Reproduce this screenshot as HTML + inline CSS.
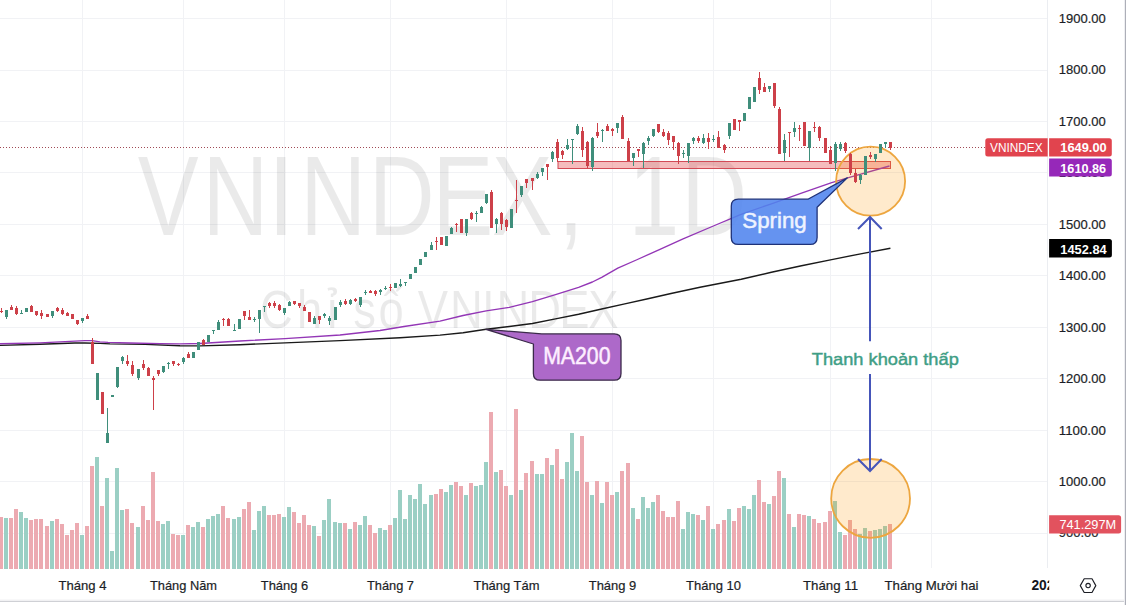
<!DOCTYPE html><html><head><meta charset="utf-8"><title>VNINDEX</title><style>html,body{margin:0;padding:0;background:#fff;overflow:hidden}body{width:1126px;height:605px}</style></head><body><svg width="1126" height="605" viewBox="0 0 1126 605" style="display:block">
<rect width="1126" height="605" fill="#fff"/>
<g stroke="#f1f2f5" stroke-width="1" fill="none"><path d="M0 533.5H1047"/><path d="M0 481.5H1047"/><path d="M0 430.5H1047"/><path d="M0 378.5H1047"/><path d="M0 327.5H1047"/><path d="M0 275.5H1047"/><path d="M0 224.5H1047"/><path d="M0 172.5H1047"/><path d="M0 121.5H1047"/><path d="M0 70.5H1047"/><path d="M0 18.5H1047"/><path d="M82.5 0V568"/><path d="M183.5 0V568"/><path d="M284.5 0V568"/><path d="M390.5 0V568"/><path d="M506.5 0V568"/><path d="M612.5 0V568"/><path d="M713.5 0V568"/><path d="M830.5 0V568"/><path d="M931.5 0V568"/></g>
<g font-family='"Liberation Sans", sans-serif' fill="#000" fill-opacity="0.082"><text transform="scale(0.81,1)" x="170.1 250.0 331.4 370.8 455.3 533.9 607.0 689.1 728.2 775.8 841.0" y="234.9" font-size="112.6">VNINDEX, 1D</text><text transform="scale(0.86,1)" x="302.4 345.4 380.6 392.7 410.7 440.0 469.4 485.9 523.3 560.6 577.4 614.2 650.3 683.9" y="328.2" font-size="52.8">Chỉ số VNINDEX</text></g>
<g fill="#9bcfc4"><rect x="4" y="518" width="4" height="51"/><rect x="19" y="512" width="4" height="57"/><rect x="24" y="518" width="4" height="51"/><rect x="50" y="521" width="4" height="48"/><rect x="80" y="535" width="4" height="34"/><rect x="95" y="457" width="4" height="112"/><rect x="105" y="478" width="4" height="91"/><rect x="110" y="551" width="4" height="18"/><rect x="115" y="468" width="4" height="101"/><rect x="120" y="510" width="4" height="59"/><rect x="136" y="527" width="4" height="42"/><rect x="161" y="524" width="4" height="45"/><rect x="166" y="521" width="4" height="48"/><rect x="181" y="535" width="4" height="34"/><rect x="191" y="527" width="4" height="42"/><rect x="196" y="522" width="4" height="47"/><rect x="206" y="519" width="4" height="50"/><rect x="211" y="516" width="4" height="53"/><rect x="216" y="514" width="4" height="55"/><rect x="232" y="519" width="4" height="50"/><rect x="237" y="517" width="4" height="52"/><rect x="252" y="530" width="4" height="39"/><rect x="257" y="511" width="4" height="58"/><rect x="262" y="506" width="4" height="63"/><rect x="282" y="517" width="4" height="52"/><rect x="287" y="507" width="4" height="62"/><rect x="312" y="526" width="4" height="43"/><rect x="322" y="520" width="4" height="49"/><rect x="327" y="499" width="4" height="70"/><rect x="333" y="522" width="4" height="47"/><rect x="338" y="523" width="4" height="46"/><rect x="348" y="529" width="4" height="40"/><rect x="358" y="525" width="4" height="44"/><rect x="363" y="516" width="4" height="53"/><rect x="378" y="528" width="4" height="41"/><rect x="383" y="530" width="4" height="39"/><rect x="393" y="518" width="4" height="51"/><rect x="398" y="490" width="4" height="79"/><rect x="403" y="519" width="4" height="50"/><rect x="408" y="495" width="4" height="74"/><rect x="413" y="499" width="4" height="70"/><rect x="418" y="484" width="4" height="85"/><rect x="423" y="504" width="4" height="65"/><rect x="429" y="495" width="4" height="74"/><rect x="444" y="492" width="4" height="77"/><rect x="449" y="485" width="4" height="84"/><rect x="464" y="495" width="4" height="74"/><rect x="474" y="486" width="4" height="83"/><rect x="479" y="485" width="4" height="84"/><rect x="484" y="462" width="4" height="107"/><rect x="494" y="472" width="4" height="97"/><rect x="509" y="495" width="4" height="74"/><rect x="519" y="490" width="4" height="79"/><rect x="535" y="474" width="4" height="95"/><rect x="540" y="474" width="4" height="95"/><rect x="550" y="465" width="4" height="104"/><rect x="565" y="462" width="4" height="107"/><rect x="570" y="433" width="4" height="136"/><rect x="575" y="471" width="4" height="98"/><rect x="590" y="495" width="4" height="74"/><rect x="600" y="503" width="4" height="66"/><rect x="615" y="492" width="4" height="77"/><rect x="631" y="508" width="4" height="61"/><rect x="641" y="497" width="4" height="72"/><rect x="646" y="508" width="4" height="61"/><rect x="651" y="502" width="4" height="67"/><rect x="681" y="529" width="4" height="40"/><rect x="686" y="512" width="4" height="57"/><rect x="691" y="514" width="4" height="55"/><rect x="701" y="520" width="4" height="49"/><rect x="711" y="529" width="4" height="40"/><rect x="727" y="509" width="4" height="60"/><rect x="742" y="506" width="4" height="63"/><rect x="747" y="509" width="4" height="60"/><rect x="752" y="495" width="4" height="74"/><rect x="767" y="504" width="4" height="65"/><rect x="782" y="478" width="4" height="91"/><rect x="792" y="527" width="4" height="42"/><rect x="807" y="516" width="4" height="53"/><rect x="833" y="501" width="4" height="68"/><rect x="838" y="532" width="4" height="37"/><rect x="858" y="534" width="4" height="35"/><rect x="863" y="528" width="4" height="41"/><rect x="873" y="530" width="4" height="39"/><rect x="878" y="529" width="4" height="40"/><rect x="883" y="526" width="4" height="43"/></g>
<g fill="#ecaab1"><rect x="-1" y="517" width="4" height="52"/><rect x="9" y="518" width="4" height="51"/><rect x="14" y="509" width="4" height="60"/><rect x="29" y="520" width="4" height="49"/><rect x="34" y="519" width="4" height="50"/><rect x="39" y="519" width="4" height="50"/><rect x="45" y="526" width="4" height="43"/><rect x="55" y="519" width="4" height="50"/><rect x="60" y="524" width="4" height="45"/><rect x="65" y="535" width="4" height="34"/><rect x="70" y="530" width="4" height="39"/><rect x="75" y="523" width="4" height="46"/><rect x="85" y="526" width="4" height="43"/><rect x="90" y="466" width="4" height="103"/><rect x="100" y="506" width="4" height="63"/><rect x="125" y="509" width="4" height="60"/><rect x="130" y="523" width="4" height="46"/><rect x="141" y="506" width="4" height="63"/><rect x="146" y="520" width="4" height="49"/><rect x="151" y="472" width="4" height="97"/><rect x="156" y="521" width="4" height="48"/><rect x="171" y="534" width="4" height="35"/><rect x="176" y="535" width="4" height="34"/><rect x="186" y="525" width="4" height="44"/><rect x="201" y="527" width="4" height="42"/><rect x="221" y="506" width="4" height="63"/><rect x="226" y="518" width="4" height="51"/><rect x="242" y="509" width="4" height="60"/><rect x="247" y="502" width="4" height="67"/><rect x="267" y="515" width="4" height="54"/><rect x="272" y="515" width="4" height="54"/><rect x="277" y="514" width="4" height="55"/><rect x="292" y="512" width="4" height="57"/><rect x="297" y="523" width="4" height="46"/><rect x="302" y="515" width="4" height="54"/><rect x="307" y="525" width="4" height="44"/><rect x="317" y="536" width="4" height="33"/><rect x="343" y="523" width="4" height="46"/><rect x="353" y="522" width="4" height="47"/><rect x="368" y="525" width="4" height="44"/><rect x="373" y="533" width="4" height="36"/><rect x="388" y="525" width="4" height="44"/><rect x="434" y="494" width="4" height="75"/><rect x="439" y="489" width="4" height="80"/><rect x="454" y="482" width="4" height="87"/><rect x="459" y="486" width="4" height="83"/><rect x="469" y="483" width="4" height="86"/><rect x="489" y="412" width="4" height="157"/><rect x="499" y="470" width="4" height="99"/><rect x="504" y="486" width="4" height="83"/><rect x="514" y="409" width="4" height="160"/><rect x="524" y="473" width="4" height="96"/><rect x="530" y="461" width="4" height="108"/><rect x="545" y="458" width="4" height="111"/><rect x="555" y="449" width="4" height="120"/><rect x="560" y="479" width="4" height="90"/><rect x="580" y="436" width="4" height="133"/><rect x="585" y="482" width="4" height="87"/><rect x="595" y="481" width="4" height="88"/><rect x="605" y="482" width="4" height="87"/><rect x="610" y="495" width="4" height="74"/><rect x="620" y="471" width="4" height="98"/><rect x="626" y="463" width="4" height="106"/><rect x="636" y="519" width="4" height="50"/><rect x="656" y="495" width="4" height="74"/><rect x="661" y="511" width="4" height="58"/><rect x="666" y="517" width="4" height="52"/><rect x="671" y="517" width="4" height="52"/><rect x="676" y="501" width="4" height="68"/><rect x="696" y="515" width="4" height="54"/><rect x="706" y="506" width="4" height="63"/><rect x="716" y="524" width="4" height="45"/><rect x="722" y="520" width="4" height="49"/><rect x="732" y="521" width="4" height="48"/><rect x="737" y="508" width="4" height="61"/><rect x="757" y="480" width="4" height="89"/><rect x="762" y="502" width="4" height="67"/><rect x="772" y="496" width="4" height="73"/><rect x="777" y="471" width="4" height="98"/><rect x="787" y="514" width="4" height="55"/><rect x="797" y="514" width="4" height="55"/><rect x="802" y="515" width="4" height="54"/><rect x="812" y="519" width="4" height="50"/><rect x="817" y="523" width="4" height="46"/><rect x="823" y="522" width="4" height="47"/><rect x="828" y="511" width="4" height="58"/><rect x="843" y="535" width="4" height="34"/><rect x="848" y="520" width="4" height="49"/><rect x="853" y="529" width="4" height="40"/><rect x="868" y="531" width="4" height="38"/><rect x="888" y="524" width="4" height="45"/></g>
<path d="M0 147.5H985" stroke="#a04a55" stroke-width="1" stroke-dasharray="1 2" fill="none"/>
<rect x="558" y="161.5" width="332.5" height="7" fill="#e24448" fill-opacity="0.36" stroke="#d24a56" stroke-width="1"/>
<path d="M0.0 345.4 L40.0 344.2 L75.0 343.0 L85.0 343.0 L100.0 343.4 L110.0 343.9 L145.0 344.4 L180.0 345.7 L200.0 345.9 L240.0 344.7 L285.0 342.9 L340.0 340.6 L400.0 337.7 L440.0 335.1 L463.1 332.8 L486.2 329.3 L509.3 326.5 L532.4 323.5 L555.5 318.9 L578.6 314.3 L601.7 309.0 L624.8 303.9 L647.9 298.8 L671.0 293.5 L700.0 287.3 L741.2 279.3 L771.4 272.3 L801.5 265.7 L831.7 259.6 L861.9 253.6 L890.4 248.3" stroke="#1a1a1a" stroke-width="1.45" fill="none" stroke-linejoin="round"/>
<path d="M0.0 343.8 L40.0 342.8 L75.0 341.2 L85.0 340.7 L92.0 340.6 L100.0 341.8 L108.0 342.4 L130.0 343.0 L160.0 343.7 L180.0 343.9 L200.0 343.5 L240.0 341.0 L285.0 338.6 L340.0 335.0 L380.0 330.5 L404.0 326.5 L440.0 321.2 L463.1 315.5 L486.2 310.8 L509.3 307.4 L532.4 301.6 L555.5 294.7 L578.6 287.3 L592.4 282.0 L601.7 277.3 L617.8 268.1 L636.3 260.0 L659.4 249.6 L682.5 239.2 L711.0 227.0 L741.0 214.3 L771.4 203.8 L801.5 193.2 L831.7 182.6 L846.8 178.1 L889.5 166.0" stroke="#9336b6" stroke-width="1.35" fill="none" stroke-linejoin="round"/>
<circle cx="870.6" cy="181.2" r="34.5" fill="#ff9800" fill-opacity="0.2" stroke="#eda63f" stroke-width="1.8"/>
<circle cx="870.6" cy="498.4" r="39.4" fill="#ff9800" fill-opacity="0.2" stroke="#eda63f" stroke-width="1.8"/>
<g fill="#3f8e7b"><rect x="6" y="310" width="1" height="9"/><rect x="5" y="310" width="3" height="7"/><rect x="21" y="310" width="1" height="4"/><rect x="20" y="313" width="3" height="1"/><rect x="26" y="308" width="1" height="4"/><rect x="25" y="308" width="3" height="4"/><rect x="52" y="311" width="1" height="7"/><rect x="51" y="311" width="3" height="5"/><rect x="82" y="318" width="1" height="5"/><rect x="81" y="318" width="3" height="3"/><rect x="97" y="373" width="1" height="27"/><rect x="96" y="373" width="3" height="27"/><rect x="107" y="408" width="1" height="35"/><rect x="106" y="433" width="3" height="10"/><rect x="112" y="395" width="1" height="2"/><rect x="111" y="395" width="3" height="2"/><rect x="117" y="367" width="1" height="21"/><rect x="116" y="367" width="3" height="20"/><rect x="122" y="356" width="1" height="8"/><rect x="121" y="357" width="3" height="4"/><rect x="138" y="369" width="1" height="11"/><rect x="137" y="369" width="3" height="9"/><rect x="163" y="366" width="1" height="7"/><rect x="162" y="366" width="3" height="6"/><rect x="168" y="362" width="1" height="7"/><rect x="167" y="363" width="3" height="1"/><rect x="183" y="357" width="1" height="7"/><rect x="182" y="358" width="3" height="4"/><rect x="193" y="352" width="1" height="6"/><rect x="192" y="352" width="3" height="6"/><rect x="198" y="342" width="1" height="8"/><rect x="197" y="342" width="3" height="8"/><rect x="208" y="335" width="1" height="7"/><rect x="207" y="335" width="3" height="7"/><rect x="213" y="330" width="1" height="4"/><rect x="212" y="330" width="3" height="1"/><rect x="218" y="320" width="1" height="10"/><rect x="217" y="322" width="3" height="8"/><rect x="234" y="324" width="1" height="6"/><rect x="233" y="330" width="3" height="1"/><rect x="239" y="319" width="1" height="10"/><rect x="238" y="319" width="3" height="10"/><rect x="254" y="317" width="1" height="5"/><rect x="253" y="319" width="3" height="1"/><rect x="259" y="310" width="1" height="23"/><rect x="258" y="310" width="3" height="9"/><rect x="264" y="306" width="1" height="6"/><rect x="263" y="306" width="3" height="1"/><rect x="284" y="308" width="1" height="7"/><rect x="283" y="308" width="3" height="5"/><rect x="289" y="301" width="1" height="5"/><rect x="288" y="302" width="3" height="4"/><rect x="314" y="316" width="1" height="8"/><rect x="313" y="318" width="3" height="6"/><rect x="324" y="313" width="1" height="5"/><rect x="323" y="314" width="3" height="2"/><rect x="329" y="316" width="1" height="9"/><rect x="328" y="318" width="3" height="3"/><rect x="335" y="307" width="1" height="13"/><rect x="334" y="307" width="3" height="13"/><rect x="340" y="300" width="1" height="7"/><rect x="339" y="302" width="3" height="3"/><rect x="350" y="299" width="1" height="6"/><rect x="349" y="300" width="3" height="4"/><rect x="360" y="297" width="1" height="10"/><rect x="359" y="297" width="3" height="8"/><rect x="365" y="290" width="1" height="5"/><rect x="364" y="292" width="3" height="1"/><rect x="380" y="289" width="1" height="6"/><rect x="379" y="290" width="3" height="2"/><rect x="385" y="286" width="1" height="4"/><rect x="384" y="288" width="3" height="1"/><rect x="395" y="283" width="1" height="5"/><rect x="394" y="283" width="3" height="5"/><rect x="400" y="279" width="1" height="8"/><rect x="399" y="284" width="3" height="2"/><rect x="405" y="282" width="1" height="4"/><rect x="404" y="282" width="3" height="1"/><rect x="410" y="274" width="1" height="5"/><rect x="409" y="274" width="3" height="5"/><rect x="415" y="267" width="1" height="6"/><rect x="414" y="267" width="3" height="6"/><rect x="420" y="259" width="1" height="6"/><rect x="419" y="259" width="3" height="6"/><rect x="425" y="252" width="1" height="5"/><rect x="424" y="252" width="3" height="5"/><rect x="431" y="242" width="1" height="8"/><rect x="430" y="245" width="3" height="5"/><rect x="446" y="236" width="1" height="10"/><rect x="445" y="236" width="3" height="10"/><rect x="451" y="227" width="1" height="7"/><rect x="450" y="228" width="3" height="6"/><rect x="466" y="219" width="1" height="17"/><rect x="465" y="219" width="3" height="14"/><rect x="476" y="211" width="1" height="11"/><rect x="475" y="213" width="3" height="1"/><rect x="481" y="206" width="1" height="7"/><rect x="480" y="207" width="3" height="6"/><rect x="486" y="194" width="1" height="10"/><rect x="485" y="194" width="3" height="9"/><rect x="496" y="218" width="1" height="15"/><rect x="495" y="219" width="3" height="5"/><rect x="511" y="209" width="1" height="19"/><rect x="510" y="209" width="3" height="19"/><rect x="521" y="186" width="1" height="11"/><rect x="520" y="186" width="3" height="9"/><rect x="537" y="172" width="1" height="7"/><rect x="536" y="174" width="3" height="4"/><rect x="542" y="168" width="1" height="8"/><rect x="541" y="168" width="3" height="4"/><rect x="552" y="151" width="1" height="11"/><rect x="551" y="152" width="3" height="7"/><rect x="567" y="139" width="1" height="11"/><rect x="566" y="145" width="3" height="4"/><rect x="572" y="139" width="1" height="25"/><rect x="571" y="139" width="3" height="1"/><rect x="577" y="124" width="1" height="11"/><rect x="576" y="126" width="3" height="8"/><rect x="592" y="137" width="1" height="34"/><rect x="591" y="138" width="3" height="29"/><rect x="602" y="129" width="1" height="13"/><rect x="601" y="130" width="3" height="1"/><rect x="617" y="123" width="1" height="10"/><rect x="616" y="123" width="3" height="5"/><rect x="633" y="153" width="1" height="13"/><rect x="632" y="153" width="3" height="5"/><rect x="643" y="142" width="1" height="26"/><rect x="642" y="143" width="3" height="11"/><rect x="648" y="136" width="1" height="9"/><rect x="647" y="138" width="3" height="3"/><rect x="653" y="129" width="1" height="8"/><rect x="652" y="129" width="3" height="7"/><rect x="683" y="150" width="1" height="8"/><rect x="682" y="153" width="3" height="1"/><rect x="688" y="143" width="1" height="20"/><rect x="687" y="143" width="3" height="13"/><rect x="693" y="137" width="1" height="7"/><rect x="692" y="138" width="3" height="3"/><rect x="703" y="134" width="1" height="10"/><rect x="702" y="138" width="3" height="5"/><rect x="713" y="135" width="1" height="7"/><rect x="712" y="139" width="3" height="1"/><rect x="729" y="123" width="1" height="16"/><rect x="728" y="123" width="3" height="13"/><rect x="744" y="113" width="1" height="8"/><rect x="743" y="113" width="3" height="8"/><rect x="749" y="97" width="1" height="12"/><rect x="748" y="97" width="3" height="12"/><rect x="754" y="87" width="1" height="15"/><rect x="753" y="87" width="3" height="15"/><rect x="769" y="86" width="1" height="6"/><rect x="768" y="86" width="3" height="3"/><rect x="784" y="134" width="1" height="27"/><rect x="783" y="140" width="3" height="13"/><rect x="794" y="122" width="1" height="15"/><rect x="793" y="128" width="3" height="4"/><rect x="809" y="131" width="1" height="30"/><rect x="808" y="131" width="3" height="17"/><rect x="835" y="142" width="1" height="29"/><rect x="834" y="144" width="3" height="19"/><rect x="840" y="142" width="1" height="9"/><rect x="839" y="144" width="3" height="5"/><rect x="860" y="174" width="1" height="10"/><rect x="859" y="175" width="3" height="5"/><rect x="865" y="156" width="1" height="19"/><rect x="864" y="156" width="3" height="19"/><rect x="875" y="154" width="1" height="8"/><rect x="874" y="154" width="3" height="5"/><rect x="880" y="144" width="1" height="9"/><rect x="879" y="144" width="3" height="9"/><rect x="885" y="142" width="1" height="6"/><rect x="884" y="142" width="3" height="2"/></g>
<g fill="#cd4049"><rect x="1" y="308" width="1" height="5"/><rect x="0" y="311" width="3" height="1"/><rect x="11" y="305" width="1" height="5"/><rect x="10" y="307" width="3" height="3"/><rect x="16" y="306" width="1" height="9"/><rect x="15" y="308" width="3" height="6"/><rect x="31" y="305" width="1" height="7"/><rect x="30" y="306" width="3" height="6"/><rect x="36" y="311" width="1" height="5"/><rect x="35" y="311" width="3" height="4"/><rect x="41" y="310" width="1" height="9"/><rect x="40" y="313" width="3" height="3"/><rect x="47" y="314" width="1" height="3"/><rect x="46" y="314" width="3" height="3"/><rect x="57" y="307" width="1" height="5"/><rect x="56" y="308" width="3" height="3"/><rect x="62" y="308" width="1" height="7"/><rect x="61" y="310" width="3" height="4"/><rect x="67" y="312" width="1" height="4"/><rect x="66" y="313" width="3" height="3"/><rect x="72" y="314" width="1" height="5"/><rect x="71" y="314" width="3" height="5"/><rect x="77" y="320" width="1" height="5"/><rect x="76" y="320" width="3" height="4"/><rect x="87" y="314" width="1" height="5"/><rect x="86" y="316" width="3" height="3"/><rect x="92" y="338" width="1" height="26"/><rect x="91" y="342" width="3" height="22"/><rect x="102" y="392" width="1" height="22"/><rect x="101" y="392" width="3" height="22"/><rect x="127" y="355" width="1" height="11"/><rect x="126" y="361" width="3" height="3"/><rect x="132" y="361" width="1" height="15"/><rect x="131" y="365" width="3" height="9"/><rect x="143" y="360" width="1" height="10"/><rect x="142" y="364" width="3" height="4"/><rect x="148" y="367" width="1" height="9"/><rect x="147" y="368" width="3" height="8"/><rect x="153" y="376" width="1" height="34"/><rect x="152" y="378" width="3" height="2"/><rect x="158" y="370" width="1" height="6"/><rect x="157" y="370" width="3" height="4"/><rect x="173" y="361" width="1" height="5"/><rect x="172" y="361" width="3" height="3"/><rect x="178" y="363" width="1" height="3"/><rect x="177" y="364" width="3" height="1"/><rect x="188" y="352" width="1" height="6"/><rect x="187" y="354" width="3" height="4"/><rect x="203" y="339" width="1" height="6"/><rect x="202" y="340" width="3" height="5"/><rect x="223" y="318" width="1" height="8"/><rect x="222" y="319" width="3" height="1"/><rect x="228" y="318" width="1" height="8"/><rect x="227" y="319" width="3" height="7"/><rect x="244" y="311" width="1" height="9"/><rect x="243" y="311" width="3" height="5"/><rect x="249" y="310" width="1" height="10"/><rect x="248" y="317" width="3" height="3"/><rect x="269" y="302" width="1" height="6"/><rect x="268" y="303" width="3" height="3"/><rect x="274" y="301" width="1" height="7"/><rect x="273" y="303" width="3" height="3"/><rect x="279" y="304" width="1" height="7"/><rect x="278" y="305" width="3" height="5"/><rect x="294" y="301" width="1" height="4"/><rect x="293" y="301" width="3" height="3"/><rect x="299" y="303" width="1" height="5"/><rect x="298" y="303" width="3" height="3"/><rect x="304" y="305" width="1" height="6"/><rect x="303" y="307" width="3" height="4"/><rect x="309" y="312" width="1" height="10"/><rect x="308" y="312" width="3" height="10"/><rect x="319" y="316" width="1" height="8"/><rect x="318" y="316" width="3" height="4"/><rect x="345" y="299" width="1" height="6"/><rect x="344" y="301" width="3" height="3"/><rect x="355" y="298" width="1" height="4"/><rect x="354" y="299" width="3" height="2"/><rect x="370" y="290" width="1" height="3"/><rect x="369" y="291" width="3" height="2"/><rect x="375" y="290" width="1" height="6"/><rect x="374" y="291" width="3" height="3"/><rect x="390" y="284" width="1" height="7"/><rect x="389" y="287" width="3" height="1"/><rect x="436" y="237" width="1" height="13"/><rect x="435" y="241" width="3" height="1"/><rect x="441" y="237" width="1" height="8"/><rect x="440" y="237" width="3" height="8"/><rect x="456" y="223" width="1" height="9"/><rect x="455" y="224" width="3" height="1"/><rect x="461" y="219" width="1" height="14"/><rect x="460" y="219" width="3" height="14"/><rect x="471" y="212" width="1" height="8"/><rect x="470" y="213" width="3" height="6"/><rect x="491" y="190" width="1" height="38"/><rect x="490" y="192" width="3" height="36"/><rect x="501" y="212" width="1" height="18"/><rect x="500" y="213" width="3" height="11"/><rect x="506" y="219" width="1" height="12"/><rect x="505" y="220" width="3" height="7"/><rect x="516" y="180" width="1" height="33"/><rect x="515" y="200" width="3" height="1"/><rect x="526" y="179" width="1" height="9"/><rect x="525" y="179" width="3" height="4"/><rect x="532" y="178" width="1" height="12"/><rect x="531" y="178" width="3" height="3"/><rect x="547" y="164" width="1" height="16"/><rect x="546" y="164" width="3" height="3"/><rect x="557" y="139" width="1" height="23"/><rect x="556" y="142" width="3" height="16"/><rect x="562" y="150" width="1" height="9"/><rect x="561" y="151" width="3" height="4"/><rect x="582" y="127" width="1" height="30"/><rect x="581" y="131" width="3" height="19"/><rect x="587" y="141" width="1" height="27"/><rect x="586" y="142" width="3" height="24"/><rect x="597" y="123" width="1" height="15"/><rect x="596" y="132" width="3" height="4"/><rect x="607" y="124" width="1" height="7"/><rect x="606" y="126" width="3" height="5"/><rect x="612" y="128" width="1" height="8"/><rect x="611" y="129" width="3" height="2"/><rect x="622" y="115" width="1" height="24"/><rect x="621" y="117" width="3" height="22"/><rect x="628" y="138" width="1" height="23"/><rect x="627" y="141" width="3" height="20"/><rect x="638" y="149" width="1" height="8"/><rect x="637" y="149" width="3" height="2"/><rect x="658" y="124" width="1" height="9"/><rect x="657" y="124" width="3" height="8"/><rect x="663" y="129" width="1" height="8"/><rect x="662" y="132" width="3" height="4"/><rect x="668" y="131" width="1" height="14"/><rect x="667" y="133" width="3" height="7"/><rect x="673" y="136" width="1" height="14"/><rect x="672" y="136" width="3" height="6"/><rect x="678" y="142" width="1" height="22"/><rect x="677" y="143" width="3" height="13"/><rect x="698" y="136" width="1" height="7"/><rect x="697" y="138" width="3" height="3"/><rect x="708" y="133" width="1" height="16"/><rect x="707" y="138" width="3" height="4"/><rect x="718" y="131" width="1" height="17"/><rect x="717" y="137" width="3" height="11"/><rect x="724" y="144" width="1" height="9"/><rect x="723" y="145" width="3" height="5"/><rect x="734" y="119" width="1" height="11"/><rect x="733" y="119" width="3" height="11"/><rect x="739" y="120" width="1" height="11"/><rect x="738" y="120" width="3" height="2"/><rect x="759" y="72" width="1" height="22"/><rect x="758" y="78" width="3" height="12"/><rect x="764" y="83" width="1" height="9"/><rect x="763" y="87" width="3" height="5"/><rect x="774" y="83" width="1" height="25"/><rect x="773" y="83" width="3" height="23"/><rect x="779" y="107" width="1" height="47"/><rect x="778" y="109" width="3" height="45"/><rect x="789" y="132" width="1" height="25"/><rect x="788" y="132" width="3" height="1"/><rect x="799" y="125" width="1" height="16"/><rect x="798" y="128" width="3" height="1"/><rect x="804" y="122" width="1" height="24"/><rect x="803" y="122" width="3" height="24"/><rect x="814" y="122" width="1" height="10"/><rect x="813" y="127" width="3" height="1"/><rect x="819" y="126" width="1" height="15"/><rect x="818" y="127" width="3" height="11"/><rect x="825" y="138" width="1" height="15"/><rect x="824" y="138" width="3" height="15"/><rect x="830" y="146" width="1" height="18"/><rect x="829" y="150" width="3" height="14"/><rect x="845" y="142" width="1" height="11"/><rect x="844" y="143" width="3" height="8"/><rect x="850" y="153" width="1" height="22"/><rect x="849" y="154" width="3" height="19"/><rect x="855" y="169" width="1" height="14"/><rect x="854" y="173" width="3" height="9"/><rect x="870" y="152" width="1" height="7"/><rect x="869" y="155" width="3" height="2"/><rect x="890" y="142" width="1" height="8"/><rect x="889" y="142" width="3" height="6"/></g>
<g stroke="#4555b9" stroke-width="2" fill="none" stroke-linecap="butt"><path d="M870 217V341.3M870 373.9V471"/><path d="M858 229L870 217L881.7 229"/><path d="M858 459L870 471L881.7 459"/></g>
<text x="885.3" y="365.3" font-family='"Liberation Sans", sans-serif' font-size="17" fill="#3f9e85" stroke="#3f9e85" stroke-width="0.45" text-anchor="middle" textLength="147" lengthAdjust="spacingAndGlyphs">Thanh khoản thấp</text>
<path d="M738.3 199.2H807.9L847.3 177.9L817.1 207.2V237.4Q817.1 244.4 810.1 244.4H738.3Q731.3 244.4 731.3 237.4V206.2Q731.3 199.2 738.3 199.2Z" fill="#5084ee" fill-opacity="0.88" stroke="#1f3278" stroke-width="1.3" stroke-linejoin="round"/>
<text x="774.5" y="228" font-family='"Liberation Sans", sans-serif' font-size="22.3" fill="#eef3ff" stroke="#eef3ff" stroke-width="0.5" text-anchor="middle" textLength="64.5" lengthAdjust="spacingAndGlyphs">Spring</text>
<path d="M541.7 333.9H614.3Q621 333.9 621 340.6V373.5Q621 380.2 614.3 380.2H540.1Q533.4 380.2 533.4 373.5V344L485.9 329.3Z" fill="#ad69c9" stroke="#3b2a4a" stroke-width="1.3" stroke-linejoin="round"/>
<text x="576.8" y="363.6" font-family='"Liberation Sans", sans-serif' font-size="23" fill="#fdeeff" stroke="#fdeeff" stroke-width="0.5" text-anchor="middle" textLength="67.3" lengthAdjust="spacingAndGlyphs">MA200</text>
<rect x="1047" y="0" width="79" height="605" fill="#fff"/>
<rect x="0" y="569" width="1126" height="36" fill="#fff"/>
<path d="M1047.5 0V568" stroke="#ebedf1" stroke-width="1" fill="none"/>
<rect x="0" y="599" width="1126" height="1" fill="#f8f8f9"/><rect x="0" y="600" width="1126" height="1" fill="#f1f1f3"/><rect x="0" y="601" width="1126" height="1" fill="#cfd0d5"/>
<rect x="1124" y="0" width="1" height="605" fill="#eeeff2"/><rect x="1125" y="0" width="1" height="605" fill="#adafb8"/>
<g font-family='"Liberation Sans", sans-serif' font-size="13.3" fill="#1b1e26" stroke="#1b1e26" stroke-width="0.2"><text x="1058.8" y="537.4" textLength="39.8" lengthAdjust="spacingAndGlyphs">900.00</text><text x="1058.8" y="486.0" textLength="47" lengthAdjust="spacingAndGlyphs">1000.00</text><text x="1058.8" y="434.5" textLength="47" lengthAdjust="spacingAndGlyphs">1100.00</text><text x="1058.8" y="383.1" textLength="47" lengthAdjust="spacingAndGlyphs">1200.00</text><text x="1058.8" y="331.6" textLength="47" lengthAdjust="spacingAndGlyphs">1300.00</text><text x="1058.8" y="280.2" textLength="47" lengthAdjust="spacingAndGlyphs">1400.00</text><text x="1058.8" y="228.8" textLength="47" lengthAdjust="spacingAndGlyphs">1500.00</text><text x="1058.8" y="177.3" textLength="47" lengthAdjust="spacingAndGlyphs">1600.00</text><text x="1058.8" y="125.8" textLength="47" lengthAdjust="spacingAndGlyphs">1700.00</text><text x="1058.8" y="74.4" textLength="47" lengthAdjust="spacingAndGlyphs">1800.00</text><text x="1058.8" y="23.0" textLength="47" lengthAdjust="spacingAndGlyphs">1900.00</text></g>
<g font-family='"Liberation Sans", sans-serif' font-size="13" fill="#fff"><path d="M987.8 138.2H1047.7V156.6H987.8Q985.3 156.6 985.3 154.1V140.7Q985.3 138.2 987.8 138.2Z" fill="#e1444e"/><text x="990" y="152.3" textLength="52.6" lengthAdjust="spacingAndGlyphs">VNINDEX</text><path d="M1049.1 138.2H1109.3Q1111.8 138.2 1111.8 140.7V154.1Q1111.8 156.6 1109.3 156.6H1049.1V138.2Z" fill="#e1444e"/><text x="1060.3" y="152.4" font-weight="bold" textLength="46.4" lengthAdjust="spacingAndGlyphs">1649.00</text><path d="M1049.1 158.4H1109.3Q1111.8 158.4 1111.8 160.9V174.0Q1111.8 176.5 1109.3 176.5H1049.1V158.4Z" fill="#9628b9"/><text x="1060.3" y="172.5" font-weight="bold" textLength="45.8" lengthAdjust="spacingAndGlyphs">1610.86</text><path d="M1049.1 239H1109.3999999999999Q1111.8999999999999 239 1111.8999999999999 241.5V255.0Q1111.8999999999999 257.5 1109.3999999999999 257.5H1049.1V239Z" fill="#000"/><text x="1060.3" y="253.5" font-weight="bold" textLength="46.4" lengthAdjust="spacingAndGlyphs">1452.84</text><path d="M1049.1 515.2H1118.6Q1121.1 515.2 1121.1 517.7V531.1Q1121.1 533.6 1118.6 533.6H1049.1V515.2Z" fill="#e2525e"/><text x="1059.4" y="529.3" textLength="56.8" lengthAdjust="spacingAndGlyphs">741.297M</text></g>
<g font-family='"Liberation Sans", sans-serif' font-size="13.2" fill="#1b1e26" stroke="#1b1e26" stroke-width="0.2"><text x="82.5" y="589.8" text-anchor="middle" textLength="48" lengthAdjust="spacingAndGlyphs">Tháng 4</text><text x="183.5" y="589.8" text-anchor="middle" textLength="67" lengthAdjust="spacingAndGlyphs">Tháng Năm</text><text x="284.5" y="589.8" text-anchor="middle" textLength="47.5" lengthAdjust="spacingAndGlyphs">Tháng 6</text><text x="390.5" y="589.8" text-anchor="middle" textLength="47" lengthAdjust="spacingAndGlyphs">Tháng 7</text><text x="506.5" y="589.8" text-anchor="middle" textLength="66" lengthAdjust="spacingAndGlyphs">Tháng Tám</text><text x="612.5" y="589.8" text-anchor="middle" textLength="47.5" lengthAdjust="spacingAndGlyphs">Tháng 9</text><text x="713.5" y="589.8" text-anchor="middle" textLength="55" lengthAdjust="spacingAndGlyphs">Tháng 10</text><text x="830.5" y="589.8" text-anchor="middle" textLength="55" lengthAdjust="spacingAndGlyphs">Tháng 11</text><text x="931.5" y="589.8" text-anchor="middle" textLength="94" lengthAdjust="spacingAndGlyphs">Tháng Mười hai</text></g>
<clipPath id="c"><rect x="1000" y="570" width="49.2" height="30"/></clipPath>
<text x="1031.4" y="590" font-family='"Liberation Sans", sans-serif' font-size="13.8" font-weight="bold" fill="#14161c" clip-path="url(#c)">2026</text>
<polygon points="1095.8,585.6 1092.0,592.5 1084.2,592.5 1080.3,585.6 1084.2,578.7 1092.0,578.7" fill="none" stroke="#1b1d24" stroke-width="1.15" stroke-linejoin="round"/>
<circle cx="1088.1" cy="585.6" r="2.2" fill="none" stroke="#1b1d24" stroke-width="1.1"/>
</svg></body></html>
